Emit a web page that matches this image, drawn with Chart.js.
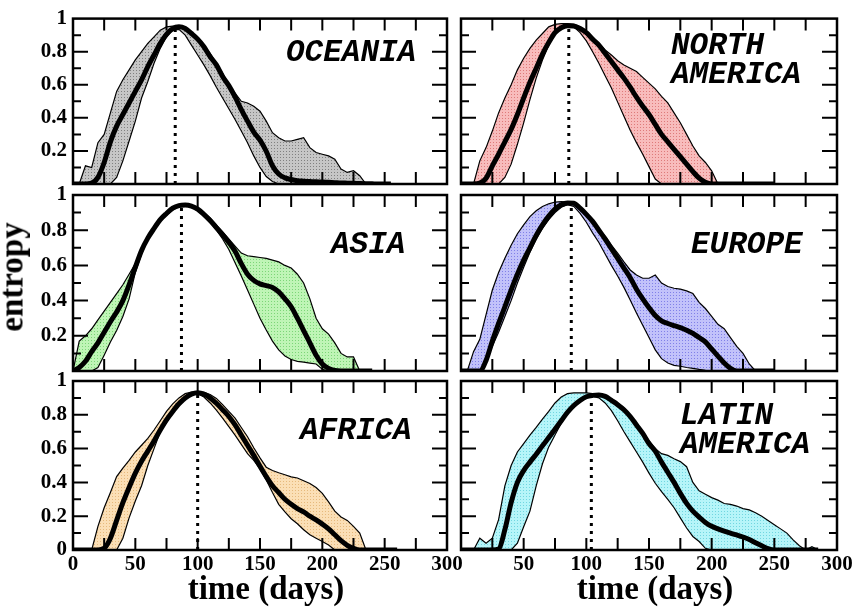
<!DOCTYPE html>
<html>
<head>
<meta charset="utf-8">
<script src="https://cdn.jsdelivr.net/npm/chart.js"></script>
<style>
  body { margin: 0; background: #fff; }
  #wrap { position: relative; width: 857px; height: 611px; overflow: hidden; }
  #wrap canvas { position: absolute; left: 0; top: 0; }
  .axis-title {
    position: absolute;
    font: bold 33px 'Liberation Serif', serif;
    line-height: 1;
    white-space: nowrap;
    color: #000;
  }
</style>
</head>
<body>
<div id="wrap">
  <canvas id="p0" width="857" height="611"></canvas>
  <canvas id="p1" width="857" height="611"></canvas>
  <canvas id="p2" width="857" height="611"></canvas>
  <canvas id="p3" width="857" height="611"></canvas>
  <canvas id="p4" width="857" height="611"></canvas>
  <canvas id="p5" width="857" height="611"></canvas>
  <div class="axis-title" style="left:12px; top:277px; transform:translate(-50%,-50%) rotate(-90deg)">entropy</div>
  <div class="axis-title" style="left:266px; top:572px; transform:translateX(-50%)">time (days)</div>
  <div class="axis-title" style="left:655px; top:572px; transform:translateX(-50%)">time (days)</div>
</div>
<script>
// time grid (days), one value every 5 days
const days = [0, 5, 10, 15, 20, 25, 30, 35, 40, 45, 50, 55, 60, 65, 70, 75, 80, 85, 90, 95,
  100, 105, 110, 115, 120, 125, 130, 135, 140, 145, 150, 155, 160, 165, 170, 175, 180, 185, 190, 195,
  200, 205, 210, 215, 220, 225, 230, 235, 240, 245, 250, 255, 260, 265, 270, 275, 280, 285, 290, 295, 300];

// entropy: median curve and upper / lower envelope per region
const oceaniaMedian = [0, 0, 0, 0.005, 0.04, 0.13, 0.255, 0.35, 0.42, 0.49, 0.56, 0.63, 0.71, 0.78, 0.85,
  0.905, 0.94, 0.95, 0.94, 0.91, 0.876, 0.83, 0.77, 0.72, 0.65, 0.595, 0.527, 0.45, 0.38, 0.314,
  0.265, 0.198, 0.11, 0.06, 0.037, 0.027, 0.02, 0.017, 0.015, 0.013, 0.012, 0.01, 0.008, 0.006, 0.005,
  0.004, 0.003, 0.002, 0.001, 0, 0, 0];
const oceaniaUpper = [0, 0, 0.11, 0.10, 0.25, 0.30, 0.43, 0.56, 0.63, 0.69, 0.75, 0.80, 0.85, 0.89, 0.93,
  0.95, 0.955, 0.955, 0.95, 0.92, 0.88, 0.84, 0.79, 0.73, 0.67, 0.60, 0.55, 0.50, 0.49, 0.47,
  0.44, 0.38, 0.31, 0.28, 0.26, 0.26, 0.27, 0.28, 0.22, 0.19, 0.18, 0.17, 0.15, 0.09, 0.07, 0.08, 0.05, 0];
const oceaniaLower = [0, 0, 0, 0, 0, 0, 0, 0.04, 0.14, 0.26, 0.38, 0.52, 0.62, 0.73, 0.82,
  0.89, 0.93, 0.935, 0.90, 0.84, 0.78, 0.72, 0.655, 0.585, 0.52, 0.455, 0.39, 0.32, 0.25, 0.17,
  0.10, 0.045, 0.015, 0, 0, 0, 0, 0, 0, 0, 0, 0, 0, 0, 0, 0, 0, 0];

const naMedian = [0, 0, 0, 0.005, 0.035, 0.11, 0.18, 0.255, 0.33, 0.42, 0.52, 0.615, 0.70, 0.785, 0.855,
  0.915, 0.945, 0.957, 0.955, 0.94, 0.915, 0.875, 0.84, 0.79, 0.74, 0.69, 0.64, 0.585, 0.525, 0.47,
  0.42, 0.36, 0.30, 0.255, 0.21, 0.165, 0.12, 0.075, 0.035, 0.01, 0, 0, 0, 0, 0, 0, 0, 0, 0, 0, 0];
const naUpper = [0, 0, 0, 0.14, 0.22, 0.32, 0.43, 0.52, 0.60, 0.69, 0.76, 0.82, 0.87, 0.91, 0.95,
  0.965, 0.97, 0.97, 0.965, 0.95, 0.925, 0.89, 0.85, 0.81, 0.78, 0.745, 0.72, 0.70, 0.68, 0.645,
  0.61, 0.575, 0.53, 0.49, 0.43, 0.37, 0.30, 0.23, 0.17, 0.13, 0.08, 0];
const naLower = [0, 0, 0, 0, 0, 0, 0, 0.04, 0.12, 0.24, 0.37, 0.51, 0.64, 0.75, 0.84,
  0.905, 0.945, 0.955, 0.95, 0.915, 0.865, 0.80, 0.73, 0.655, 0.58, 0.495, 0.41, 0.325, 0.25, 0.18,
  0.105, 0.03, 0, 0, 0, 0, 0, 0, 0, 0, 0, 0];

const asiaMedian = [0, 0.02, 0.055, 0.11, 0.16, 0.22, 0.28, 0.335, 0.40, 0.49, 0.59, 0.685, 0.755, 0.81, 0.86,
  0.895, 0.925, 0.94, 0.943, 0.937, 0.92, 0.89, 0.855, 0.815, 0.775, 0.73, 0.68, 0.61, 0.55, 0.515,
  0.495, 0.485, 0.475, 0.45, 0.41, 0.365, 0.30, 0.23, 0.16, 0.09, 0.04, 0.015, 0.003, 0, 0, 0, 0, 0, 0];
const asiaUpper = [0, 0.17, 0.2, 0.24, 0.29, 0.34, 0.39, 0.44, 0.49, 0.55, 0.61, 0.69, 0.76, 0.82, 0.865,
  0.9, 0.93, 0.945, 0.948, 0.942, 0.925, 0.9, 0.87, 0.83, 0.79, 0.75, 0.71, 0.67, 0.655, 0.65,
  0.645, 0.64, 0.63, 0.62, 0.6, 0.585, 0.55, 0.50, 0.41, 0.30, 0.24, 0.21, 0.16, 0.10, 0.08, 0.08, 0];
const asiaLower = [0, 0, 0, 0, 0.02, 0.09, 0.165, 0.23, 0.31, 0.41, 0.56, 0.665, 0.75, 0.80, 0.85,
  0.885, 0.915, 0.935, 0.94, 0.93, 0.91, 0.88, 0.845, 0.80, 0.75, 0.69, 0.615, 0.54, 0.46, 0.38,
  0.30, 0.233, 0.17, 0.12, 0.085, 0.065, 0.055, 0.05, 0.045, 0.04, 0.01, 0, 0, 0, 0, 0, 0];

const europeMedian = [0, 0, 0, 0, 0.06, 0.17, 0.27, 0.365, 0.46, 0.55, 0.63, 0.70, 0.77, 0.83, 0.88,
  0.92, 0.945, 0.955, 0.953, 0.925, 0.89, 0.85, 0.80, 0.75, 0.695, 0.64, 0.585, 0.53, 0.465, 0.41,
  0.36, 0.315, 0.285, 0.27, 0.258, 0.247, 0.232, 0.214, 0.19, 0.165, 0.125, 0.085, 0.045, 0.015, 0,
  0, 0, 0, 0, 0, 0];
const europeUpper = [0, 0, 0.11, 0.18, 0.32, 0.46, 0.56, 0.64, 0.715, 0.78, 0.83, 0.877, 0.91, 0.935, 0.95,
  0.96, 0.962, 0.96, 0.955, 0.93, 0.895, 0.855, 0.81, 0.765, 0.715, 0.67, 0.62, 0.574, 0.545, 0.527,
  0.527, 0.545, 0.50, 0.48, 0.47, 0.465, 0.455, 0.44, 0.39, 0.355, 0.31, 0.265, 0.24, 0.19, 0.14,
  0.10, 0.04, 0];
const europeLower = [0, 0, 0, 0, 0.05, 0.14, 0.22, 0.31, 0.40, 0.50, 0.59, 0.675, 0.75, 0.81, 0.86,
  0.90, 0.93, 0.945, 0.935, 0.896, 0.845, 0.785, 0.73, 0.665, 0.60, 0.54, 0.475, 0.403, 0.33, 0.26,
  0.19, 0.12, 0.07, 0.045, 0.032, 0.027, 0.02, 0.015, 0.009, 0.004, 0, 0, 0, 0, 0, 0, 0, 0];

const africaMedian = [0, 0, 0, 0, 0, 0.01, 0.07, 0.175, 0.28, 0.37, 0.455, 0.525, 0.585, 0.645, 0.71,
  0.77, 0.82, 0.865, 0.90, 0.922, 0.93, 0.922, 0.90, 0.868, 0.83, 0.79, 0.74, 0.68, 0.62, 0.56,
  0.495, 0.434, 0.38, 0.34, 0.30, 0.27, 0.245, 0.225, 0.20, 0.178, 0.153, 0.125, 0.09, 0.055, 0.028,
  0.01, 0, 0, 0, 0, 0, 0, 0];
const africaUpper = [0, 0, 0, 0, 0.14, 0.25, 0.34, 0.434, 0.485, 0.53, 0.58, 0.62, 0.66, 0.71, 0.765,
  0.82, 0.865, 0.90, 0.925, 0.935, 0.937, 0.933, 0.92, 0.897, 0.86, 0.82, 0.78, 0.725, 0.67, 0.605,
  0.545, 0.49, 0.47, 0.457, 0.445, 0.433, 0.426, 0.41, 0.394, 0.37, 0.335, 0.285, 0.23, 0.195, 0.175,
  0.14, 0.10, 0];
const africaLower = [0, 0, 0, 0, 0, 0, 0, 0, 0.07, 0.19, 0.29, 0.38, 0.50, 0.60, 0.70,
  0.76, 0.81, 0.855, 0.895, 0.92, 0.925, 0.905, 0.87, 0.828, 0.78, 0.73, 0.68, 0.625, 0.57, 0.53,
  0.48, 0.414, 0.34, 0.27, 0.225, 0.185, 0.155, 0.12, 0.09, 0.07, 0.05, 0.03, 0, 0, 0, 0, 0, 0];

const laMedian = [0, 0, 0, 0, 0, 0, 0.005, 0.12, 0.28, 0.40, 0.47, 0.52, 0.567, 0.617, 0.665,
  0.715, 0.765, 0.815, 0.855, 0.885, 0.907, 0.915, 0.917, 0.909, 0.885, 0.86, 0.83, 0.79, 0.74, 0.69,
  0.63, 0.585, 0.52, 0.46, 0.40, 0.335, 0.276, 0.23, 0.195, 0.163, 0.14, 0.125, 0.112, 0.10, 0.089,
  0.077, 0.062, 0.043, 0.025, 0.008, 0, 0, 0, 0, 0, 0, 0, 0];
const laUpper = [0, 0, 0, 0.07, 0.04, 0.07, 0.18, 0.38, 0.50, 0.58, 0.63, 0.68, 0.725, 0.775, 0.82,
  0.87, 0.905, 0.925, 0.93, 0.93, 0.93, 0.925, 0.92, 0.91, 0.895, 0.87, 0.84, 0.80, 0.75, 0.70,
  0.645, 0.60, 0.57, 0.56, 0.54, 0.523, 0.493, 0.40, 0.35, 0.33, 0.31, 0.295, 0.275, 0.27, 0.26,
  0.245, 0.237, 0.22, 0.2, 0.175, 0.15, 0.125, 0.1, 0.06, 0.025, 0, 0.02, 0];
const laLower = [0, 0, 0, 0, 0, 0, 0, 0, 0, 0.04, 0.138, 0.23, 0.38, 0.51, 0.61,
  0.68, 0.75, 0.81, 0.85, 0.88, 0.9, 0.91, 0.9, 0.87, 0.825, 0.765, 0.70, 0.64, 0.58, 0.52,
  0.455, 0.395, 0.345, 0.30, 0.25, 0.19, 0.13, 0.08, 0.05, 0.01, 0, 0, 0, 0, 0,
  0, 0, 0, 0, 0, 0, 0, 0, 0, 0, 0, 0, 0];

// day of the entropy maximum (dotted marker) and its height
const peakDays = [82, 86, 87, 88, 100, 104];
const peakValues = [0.95, 0.957, 0.943, 0.955, 0.93, 0.917];

// tick labels
const yTickLabels = [0.2, 0.4, 0.6, 0.8, 1];
const yTickLabelsBottom = [0, 0.2, 0.4, 0.6, 0.8, 1];
const xTickLabels = [0, 50, 100, 150, 200, 250, 300];
const xTickLabelsRight = [50, 100, 150, 200, 250, 300];

// plot boxes on the page
const colLeft = [73, 461];
const colRight = [447, 837];
const rowTop = [12, 195, 381];
const rowBottom = [184, 371, 550];
const yAxisWidth = 60;
const xAxisHeight = 40;

const panels = [
  { name: ['OCEANIA'], at: [286, 61], col: 0, row: 0, median: oceaniaMedian, upper: oceaniaUpper, lower: oceaniaLower, colors: ['#c6c6c6', '#808080'] },
  { name: ['NORTH', 'AMERICA'], at: [671, 54], col: 1, row: 0, median: naMedian, upper: naUpper, lower: naLower, colors: ['#f8bcbc', '#de7a7a'] },
  { name: ['ASIA'], at: [331, 253], col: 0, row: 1, median: asiaMedian, upper: asiaUpper, lower: asiaLower, colors: ['#bff5b6', '#7cd678'] },
  { name: ['EUROPE'], at: [691, 253], col: 1, row: 1, median: europeMedian, upper: europeUpper, lower: europeLower, colors: ['#c2c2fa', '#8080e8'] },
  { name: ['AFRICA'], at: [300, 439], col: 0, row: 2, median: africaMedian, upper: africaUpper, lower: africaLower, colors: ['#fbdfb6', '#e6b97c'] },
  { name: ['LATIN', 'AMERICA'], at: [680, 424], col: 1, row: 2, median: laMedian, upper: laUpper, lower: laLower, colors: ['#b6f5f9', '#70d6e0'] }
];

const tickFont = { family: "'Liberation Serif', serif", size: 21, weight: 'bold' };

// dotted fill texture for the envelopes
function stipple(base, dot) {
  const tile = document.createElement('canvas');
  tile.width = 3;
  tile.height = 3;
  const g = tile.getContext('2d');
  g.fillStyle = base;
  g.fillRect(0, 0, 3, 3);
  g.fillStyle = dot;
  g.fillRect(1, 1, 1, 1);
  return g.createPattern(tile, 'repeat');
}

function points(values) {
  return values.map((v, i) => ({ x: days[i], y: v }));
}

function labelFor(list) {
  return value => {
    const v = Math.round(value * 10) / 10;
    return list.includes(v) ? String(v) : '';
  };
}

// frame, inward ticks on all four sides and the region name
const panelFrame = {
  id: 'panelFrame',
  afterDraw(chart, args, opts) {
    const { ctx, chartArea: a } = chart;
    const x = chart.scales.x;
    const y = chart.scales.y;
    ctx.save();
    ctx.strokeStyle = '#000';
    ctx.lineWidth = 2;
    ctx.beginPath();
    for (let d = 25; d < 300; d += 25) {
      const px = x.getPixelForValue(d);
      ctx.moveTo(px, a.bottom);
      ctx.lineTo(px, a.bottom - 12);
      ctx.moveTo(px, a.top);
      ctx.lineTo(px, a.top + 12);
    }
    for (let k = 1; k < 10; k++) {
      const py = y.getPixelForValue(k / 10);
      const len = k % 2 === 0 ? 15 : 8;
      ctx.moveTo(a.left, py);
      ctx.lineTo(a.left + len, py);
      ctx.moveTo(a.right, py);
      ctx.lineTo(a.right - len, py);
    }
    ctx.stroke();
    ctx.lineWidth = 2.5;
    ctx.strokeRect(a.left, a.top, a.right - a.left, a.bottom - a.top);

    ctx.fillStyle = '#000';
    ctx.font = "italic bold 31px 'Liberation Mono', monospace";
    ctx.textAlign = 'left';
    ctx.textBaseline = 'alphabetic';
    opts.lines.forEach((t, i) => ctx.fillText(t, opts.x, opts.y + i * 29));
    ctx.restore();
  }
};

function makePanel(p, i) {
  const left = colLeft[p.col];
  const right = colRight[p.col];
  const top = rowTop[p.row];
  const bottom = rowBottom[p.row];
  const isBottom = p.row === 2;
  const yLabels = p.col === 0 ? (isBottom ? yTickLabelsBottom : yTickLabels) : [];
  const xLabels = isBottom ? (p.col === 0 ? xTickLabels : xTickLabelsRight) : [];

  new Chart(document.getElementById('p' + i), {
    type: 'line',
    data: {
      datasets: [
        {
          data: points(p.median),
          borderColor: '#000',
          borderWidth: 5,
          pointRadius: 0,
          cubicInterpolationMode: 'monotone',
          fill: false
        },
        {
          data: [{ x: peakDays[i], y: 0 }, { x: peakDays[i], y: peakValues[i] }],
          borderColor: '#000',
          borderWidth: 3,
          borderDash: [3, 5],
          pointRadius: 0,
          fill: false
        },
        {
          data: points(p.upper),
          borderColor: '#000',
          borderWidth: 1.2,
          pointRadius: 0,
          backgroundColor: stipple(p.colors[0], p.colors[1]),
          fill: '+1'
        },
        {
          data: points(p.lower),
          borderColor: '#000',
          borderWidth: 1.2,
          pointRadius: 0,
          fill: false
        }
      ]
    },
    options: {
      responsive: false,
      animation: false,
      events: [],
      layout: {
        padding: {
          left: left - yAxisWidth,
          top: top,
          right: 857 - right,
          bottom: 611 - bottom - xAxisHeight
        }
      },
      plugins: {
        legend: { display: false },
        tooltip: { enabled: false },
        filler: { drawTime: 'beforeDatasetsDraw' },
        panelFrame: { lines: p.name, x: p.at[0], y: p.at[1] }
      },
      scales: {
        x: {
          type: 'linear',
          min: 0,
          max: 300,
          grid: { display: false, drawTicks: false },
          border: { display: false },
          ticks: {
            stepSize: 50,
            autoSkip: false,
            maxRotation: 0,
            padding: 2,
            color: '#000',
            font: tickFont,
            callback: labelFor(xLabels)
          },
          afterFit: s => { s.height = xAxisHeight; }
        },
        y: {
          min: 0,
          max: 1,
          grid: { display: false, drawTicks: false },
          border: { display: false },
          ticks: {
            stepSize: 0.2,
            autoSkip: false,
            padding: 6,
            color: '#000',
            font: tickFont,
            callback: labelFor(yLabels)
          },
          afterFit: s => { s.width = yAxisWidth; }
        }
      }
    },
    plugins: [panelFrame]
  });
}

panels.forEach(makePanel);
</script>
</body>
</html>
